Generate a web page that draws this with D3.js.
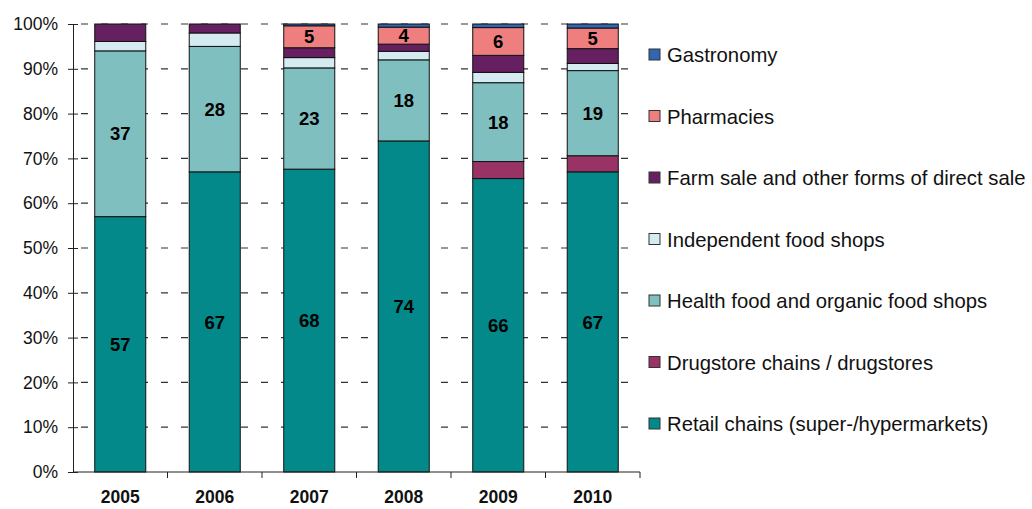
<!DOCTYPE html>
<html>
<head>
<meta charset="utf-8">
<script src="https://cdn.jsdelivr.net/npm/d3@7"></script>
<style>
  body { margin: 0; background: #fff; }
  svg { font-family: "Liberation Sans", Arial, sans-serif; }
</style>
</head>
<body>
<svg width="1032" height="509"></svg>
<script>
// categories (years) and series, bottom to top
const years = ["2005", "2006", "2007", "2008", "2009", "2010"];
const retail      = [57.0, 67.0, 67.6, 73.9, 65.5, 67.0];
const drugstore   = [0.0, 0.0, 0.0, 0.0, 3.8, 3.6];
const healthFood  = [37.0, 28.0, 22.6, 18.1, 17.6, 19.0];
const independent = [2.1, 3.0, 2.3, 1.9, 2.3, 1.6];
const farmSale    = [3.9, 2.0, 2.2, 1.6, 3.8, 3.3];
const pharmacies  = [0.0, 0.0, 4.9, 3.8, 6.2, 4.6];
const gastronomy  = [0.0, 0.0, 0.4, 0.7, 0.8, 0.9];
const yTicks = [0, 10, 20, 30, 40, 50, 60, 70, 80, 90, 100];

const series = [
  { key: "retail", name: "Retail chains (super-/hypermarkets)", values: retail, color: "#03898a", label: true },
  { key: "drug", name: "Drugstore chains / drugstores", values: drugstore, color: "#993366", label: false },
  { key: "health", name: "Health food and organic food shops", values: healthFood, color: "#80bfbf", label: true },
  { key: "indep", name: "Independent food shops", values: independent, color: "#d3ebf1", label: false },
  { key: "farm", name: "Farm sale and other forms of direct sale", values: farmSale, color: "#661f60", label: false },
  { key: "pharm", name: "Pharmacies", values: pharmacies, color: "#ef7f7f", label: true },
  { key: "gastro", name: "Gastronomy", values: gastronomy, color: "#3366b0", label: false }
];

const rows = years.map((y, i) => {
  const r = { year: y };
  series.forEach(s => r[s.key] = s.values[i]);
  return r;
});

const svg = d3.select("svg");
const margin = { left: 73, right: 392, top: 24, bottom: 37 };
const width = 1032 - margin.left - margin.right,
      height = 509 - margin.top - margin.bottom;

const g = svg.append("g").attr("transform", `translate(${margin.left},${margin.top})`);

const x = d3.scaleBand().domain(years).range([0, width]).paddingInner(0.46).paddingOuter(0.23);
const xb = d3.scaleBand().domain(years).range([0, width]);
const y = d3.scaleLinear().domain([0, 100]).range([height, 0]);

// dashed gridlines
g.append("g")
  .selectAll("line")
  .data(yTicks.filter(t => t > 0))
  .enter().append("line")
  .attr("x1", 5).attr("x2", width)
  .attr("y1", d => y(d)).attr("y2", d => y(d))
  .attr("stroke", "#333")
  .attr("stroke-width", 1.2)
  .attr("stroke-dasharray", "7,13")
  .attr("stroke-dashoffset", -3);

const stack = d3.stack().keys(series.map(s => s.key));
const layers = stack(rows);

const layer = g.append("g")
  .selectAll("g")
  .data(layers)
  .enter().append("g")
  .attr("fill", (d, i) => series[i].color);

layer.selectAll("rect")
  .data(d => d.filter(p => p[1] - p[0] > 0))
  .enter().append("rect")
  .attr("x", d => x(d.data.year))
  .attr("width", x.bandwidth())
  .attr("y", d => y(d[1]))
  .attr("height", d => y(d[0]) - y(d[1]))
  .attr("stroke", "#111")
  .attr("stroke-width", 1);

// value labels
layers.forEach((l, i) => {
  if (!series[i].label) return;
  g.append("g")
    .selectAll("text")
    .data(l.filter(p => p[1] - p[0] > 0))
    .enter().append("text")
    .attr("x", d => x(d.data.year) + x.bandwidth() / 2)
    .attr("y", d => y((d[0] + d[1]) / 2))
    .attr("dy", "0.36em")
    .attr("text-anchor", "middle")
    .attr("font-weight", "bold")
    .attr("font-size", 18.5)
    .attr("fill", "#000")
    .text(d => Math.round(d[1] - d[0]));
});

// y axis
const yAxis = g.append("g")
  .call(d3.axisLeft(y).tickValues(yTicks).tickFormat(d => d + "%").tickSize(5).tickPadding(10));
yAxis.select(".domain").attr("stroke", "#222");
yAxis.selectAll(".tick line").attr("stroke", "#222").attr("x2", 5).attr("x1", -5);
yAxis.selectAll(".tick text").attr("font-size", 17.5).attr("fill", "#111")
  .attr("font-family", "Liberation Sans, Arial, sans-serif");

// x axis
const xAxis = g.append("g").attr("transform", `translate(0,${height})`);
xAxis.append("line").attr("x1", 0).attr("x2", width).attr("stroke", "#222").attr("stroke-width", 1.2);
xAxis.selectAll("line.tk")
  .data(years)
  .enter().append("line")
  .attr("class", "tk")
  .attr("x1", d => xb(d) + xb.bandwidth()).attr("x2", d => xb(d) + xb.bandwidth())
  .attr("y1", 0).attr("y2", 6)
  .attr("stroke", "#222");
xAxis.selectAll("text")
  .data(years)
  .enter().append("text")
  .attr("x", d => x(d) + x.bandwidth() / 2)
  .attr("y", 31)
  .attr("text-anchor", "middle")
  .attr("font-weight", "bold")
  .attr("font-size", 17.5)
  .attr("fill", "#111")
  .text(d => d);

// legend, top to bottom reversed order
const legend = svg.append("g").attr("transform", "translate(649,0)");
const legItems = series.slice().reverse();
const li = legend.selectAll("g")
  .data(legItems)
  .enter().append("g")
  .attr("transform", (d, i) => `translate(0,${55 + i * 61.5})`);
li.append("rect")
  .attr("x", 0).attr("y", -6)
  .attr("width", 11).attr("height", 11)
  .attr("fill", d => d.color)
  .attr("stroke", "#333")
  .attr("stroke-width", 1);
li.append("text")
  .attr("x", 18).attr("y", 0)
  .attr("dy", "0.35em")
  .attr("font-size", 20.3)
  .attr("fill", "#111")
  .text(d => d.name);
</script>
</body>
</html>
